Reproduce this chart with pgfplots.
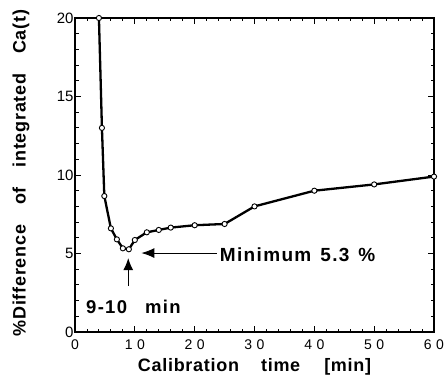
\documentclass[border=0pt]{standalone}
\usepackage{fontspec}
\setmainfont{Liberation Sans}
\newfontfamily\labfont{Liberation Sans}[LetterSpace=4]
\newfontfamily\annfont{Liberation Sans}[LetterSpace=7]
\usepackage{pgfplots}
\pgfplotsset{compat=1.18}
\usetikzlibrary{arrows.meta}
\begin{document}
\begin{tikzpicture}
\begin{axis}[
  scale only axis, width=359pt, height=314pt,
  xmin=0, xmax=60, ymin=0, ymax=20,
  xtick={0,10,...,60}, ytick={0,5,...,20},
  xticklabels={0,1\hspace{4.5pt}0,2\hspace{4.5pt}0,3\hspace{4.5pt}0,4\hspace{4.5pt}0,5\hspace{4.5pt}0,6\hspace{4.5pt}0},
  minor x tick num=4, minor y tick num=4,
  tick align=inside,
  major tick length=6pt, minor tick length=3.5pt,
  axis line style={line width=1.3pt},
  every tick/.style={line width=0.9pt, black},
  /pgf/number format/assume math mode=true,
  x tick label style={font=\fontsize{14}{16}\selectfont, yshift=-4pt},
  y tick label style={font=\fontsize{15}{17}\selectfont, xshift=2pt},
  xlabel={\labfont\bfseries Calibration\hspace{22pt}time\hspace{24pt}[min]},
  ylabel={\labfont\bfseries \%Difference\hspace{20pt}of\hspace{20pt}integrated\hspace{20pt}Ca(t)},
  xlabel style={font=\fontsize{18}{20}\selectfont, at={(axis description cs:0.5,0)}, anchor=center, yshift=-35pt},
  ylabel style={font=\fontsize{18}{20}\selectfont, at={(axis description cs:0,0.5)}, anchor=center, yshift=54pt, xshift=2pt},
  clip=false,
]
\addplot[black, line width=2.3pt, mark=*, mark size=2.6pt, mark options={fill=white, draw=black, line width=0.9pt}]
  coordinates {
  (4,20) (4.5,13) (4.9,8.66) (6,6.6) (7,5.9) (8,5.33) (9,5.27) (10,5.86)
  (12,6.35) (14,6.5) (16,6.65) (20,6.8) (25,6.88) (30,8.0) (40,9.0) (50,9.4) (60,9.9)
  };
\draw[line width=0.9pt, -{Latex[length=13pt,width=10pt]}] (axis cs:23.7,5.03) -- (axis cs:11.1,5.03);
\draw[line width=1.2pt, -{Latex[length=12pt,width=10pt]}] (axis cs:8.9,2.93) -- (axis cs:8.9,4.71);
\node[anchor=base west, inner sep=0pt, font=\fontsize{19}{21}\annfont\bfseries] at (axis cs:24.2,4.52) {Minimum\hspace{9pt}5.3\hspace{9pt}\%};
\node[anchor=base west, inner sep=0pt, font=\fontsize{18.5}{21}\annfont\bfseries] at (axis cs:1.84,1.21) {9-10\hspace{18pt}min};
\end{axis}
\pgfresetboundingbox
\useasboundingbox (current axis.south west) ++(-75pt,-53pt) rectangle ([shift={(11pt,18pt)}]current axis.north east);
\end{tikzpicture}
\end{document}
